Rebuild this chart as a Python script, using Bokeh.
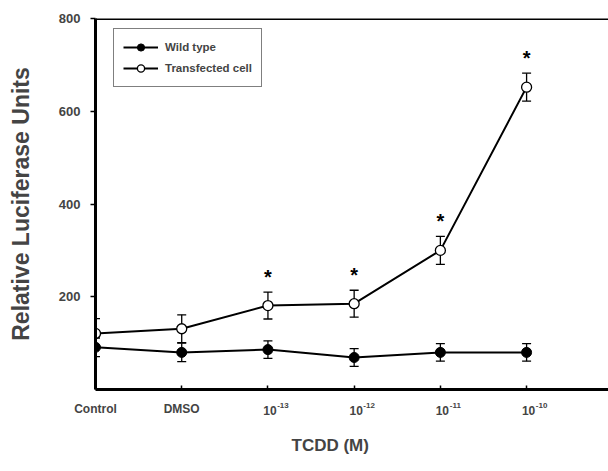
from bokeh.plotting import figure
from bokeh.models import (ColumnDataSource, Whisker, TeeHead, FixedTicker, Span,
                          Legend, LegendItem, Range1d, LinearAxis, Title)
from bokeh.core.properties import value
from bokeh.embed import file_html
from bokeh.resources import INLINE

categories = ["Control", "DMSO", "10-13", "10-12", "10-11", "10-10"]
bases = [None, None, "10", "10", "10", "10"]
exponents = [None, None, "-13", "-12", "-11", "-10"]
wild_mean = [91, 80, 86, 69, 80, 80]
wild_err = [20, 20, 19, 19, 19, 19]
trans_mean = [121, 131, 181, 185, 300, 652]
trans_err = [32, 30, 29, 29, 30, 30]
significant = [False, False, True, True, True, True]
y_ticks = [200, 400, 600, 800]

FONT = "Liberation Sans"
xs = list(range(len(categories)))
X_END = 5.95
PX_PER_UNIT = 513 / X_END

p = figure(width=608, height=471, output_backend="svg", toolbar_location=None,
           x_range=Range1d(0, X_END), y_range=Range1d(0, 800), x_axis_location=None,
           min_border_left=95, min_border_right=0, min_border_top=18, min_border_bottom=82)
p.outline_line_color = None
p.grid.grid_line_color = None
p.background_fill_color = "white"

def src(mean, err):
    return ColumnDataSource(dict(x=xs, y=mean,
                                 lo=[m - e for m, e in zip(mean, err)],
                                 hi=[m + e for m, e in zip(mean, err)]))

ws = src(wild_mean, wild_err)
ts = src(trans_mean, trans_err)

l1 = p.line("x", "y", source=ws, line_color="black", line_width=2)
l2 = p.line("x", "y", source=ts, line_color="black", line_width=2)
for s in (ws, ts):
    w = Whisker(base="x", upper="hi", lower="lo", source=s, line_color="black", line_width=1.3,
                upper_head=TeeHead(size=9, line_color="black", line_width=1.3),
                lower_head=TeeHead(size=9, line_color="black", line_width=1.3))
    p.add_layout(w)
m1 = p.scatter("x", "y", source=ws, marker="circle", size=10, fill_color="black", line_color="black")
m2 = p.scatter("x", "y", source=ts, marker="circle", size=10, fill_color="white", line_color="black", line_width=1.3)

sx = [x for x, s in zip(xs, significant) if s]
sy = [m + e + 33 for m, e, s in zip(trans_mean, trans_err, significant) if s]
p.text(x=sx, y=sy, text=["*"] * len(sx), text_font=value(FONT), text_font_style="bold",
       text_font_size="20px", text_align="center", text_baseline="middle", text_color="black")

p.add_layout(Span(location=800, dimension="width", line_color="black", line_width=3))

# shifted ranges so that "10" and its raised exponent sit side by side
def shifted(px):
    d = px / PX_PER_UNIT
    return Range1d(-d, X_END - d)

p.extra_x_ranges = {"base": shifted(2), "exp": shifted(15)}

def style_labels(ax, size):
    ax.major_label_text_font = FONT
    ax.major_label_text_font_style = "bold"
    ax.major_label_text_font_size = size
    ax.minor_tick_line_color = None

ax0 = LinearAxis(ticker=FixedTicker(ticks=xs),
                 major_label_overrides={i: (c if b is None else " ") for i, (c, b) in enumerate(zip(categories, bases))},
                 axis_line_width=3, major_tick_in=4, major_tick_out=0, major_tick_line_width=1.5,
                 major_label_standoff=12)
style_labels(ax0, "12px")
p.add_layout(ax0, "below")

pow_ticks = [i for i, b in enumerate(bases) if b is not None]
ax1 = LinearAxis(x_range_name="exp", ticker=FixedTicker(ticks=pow_ticks),
                 major_label_overrides={i: exponents[i] for i in pow_ticks},
                 axis_line_color=None, major_tick_line_color=None, major_label_standoff=-22)
style_labels(ax1, "8px")
p.add_layout(ax1, "below")

ax2 = LinearAxis(x_range_name="base", ticker=FixedTicker(ticks=pow_ticks),
                 major_label_overrides={i: bases[i] for i in pow_ticks},
                 axis_line_color=None, major_tick_line_color=None, major_label_standoff=-19)
style_labels(ax2, "12px")
p.add_layout(ax2, "below")

p.add_layout(Title(text="TCDD (M)", align="left", offset=196, standoff=31,
                   text_font=FONT, text_font_style="bold", text_font_size="17px"), "below")

p.yaxis.ticker = FixedTicker(ticks=y_ticks)
p.yaxis.major_tick_in = 0
p.yaxis.major_tick_out = 5
p.yaxis.minor_tick_line_color = None
p.yaxis.axis_line_width = 3
p.yaxis.major_tick_line_width = 1.5
p.yaxis.major_label_text_font = FONT
p.yaxis.major_label_text_font_style = "bold"
p.yaxis.major_label_text_font_size = "13px"
p.yaxis.major_label_standoff = 10
p.yaxis.axis_label = "Relative Luciferase Units"
p.yaxis.axis_label_text_font = FONT
p.yaxis.axis_label_text_font_style = "bold"
p.yaxis.axis_label_text_font_size = "23px"
p.yaxis.axis_label_standoff = 22

legend = Legend(items=[LegendItem(label="Wild type", renderers=[l1, m1]),
                       LegendItem(label="Transfected cell", renderers=[l2, m2])],
                margin=0, padding=9, spacing=3,
                label_text_font=FONT, label_text_font_style="bold", label_text_font_size="11.5px",
                border_line_color="black", border_line_width=1,
                glyph_width=35, glyph_height=18, label_height=18, label_standoff=7)
legend.location = (18, 371 - 12 - 57)
p.add_layout(legend, "center")

open("out.html", "w").write(file_html(p, INLINE))
